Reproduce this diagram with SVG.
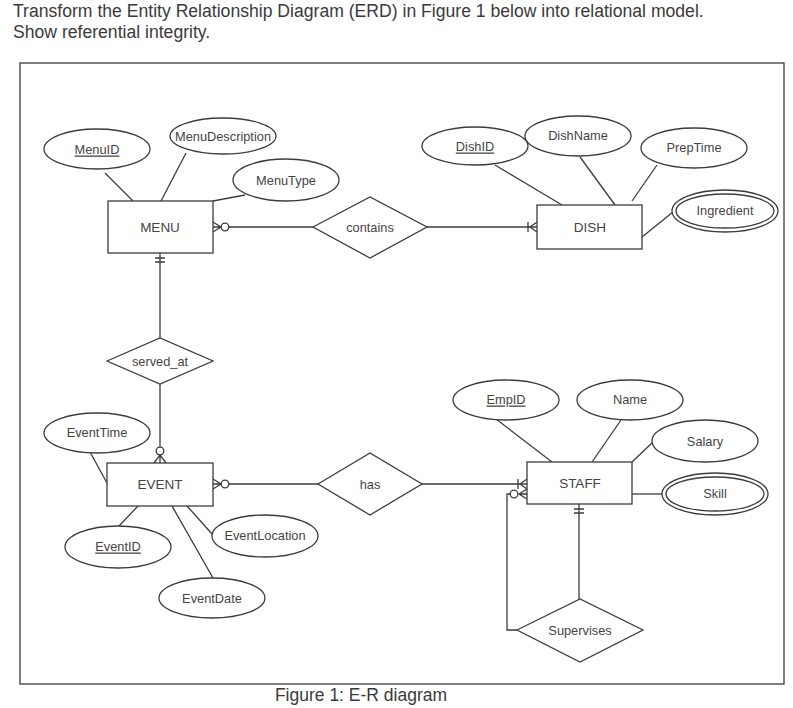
<svg xmlns="http://www.w3.org/2000/svg" width="793" height="708" viewBox="0 0 793 708">
<style>
.t{font-family:"Liberation Sans",Arial,sans-serif;fill:#3a3a3a}
.lbl{font-family:"Liberation Sans",Arial,sans-serif;font-size:12.8px;fill:#444;text-anchor:middle;dominant-baseline:central}
.ent{font-size:13.5px}
.s{fill:none;stroke:#3c3c3c;stroke-width:1.3}
.b{fill:#fff;stroke:#3c3c3c;stroke-width:1.3}
</style>
<rect width="793" height="708" fill="#fff"/>
<text class="t" x="13" y="17" font-size="17.6">Transform the Entity Relationship Diagram (ERD) in Figure 1 below into relational model.</text>
<text class="t" x="13" y="38" font-size="17.6">Show referential integrity.</text>
<rect class="s" x="20" y="63" width="764" height="621" stroke-width="1.5"/>
<text class="t" x="361" y="701" font-size="17.5" text-anchor="middle">Figure 1: E-R diagram</text>

<g id="connectors">
<line class="s" x1="105" y1="173" x2="133" y2="201"/>
<line class="s" x1="186" y1="153" x2="161" y2="201"/>
<line class="s" x1="245" y1="195" x2="213" y2="201"/>
<line class="s" x1="495" y1="165" x2="562" y2="205"/>
<line class="s" x1="580" y1="157" x2="615" y2="205"/>
<line class="s" x1="657" y1="165" x2="632" y2="201"/>
<line class="s" x1="673" y1="212" x2="642" y2="237"/>
<line class="s" x1="90" y1="452" x2="107" y2="483"/>
<line class="s" x1="138" y1="506" x2="119" y2="526"/>
<line class="s" x1="187" y1="506" x2="213" y2="535"/>
<line class="s" x1="172" y1="506" x2="213" y2="578"/>
<line class="s" x1="496" y1="419" x2="552" y2="462"/>
<line class="s" x1="621" y1="420" x2="592" y2="462"/>
<line class="s" x1="653" y1="442" x2="632" y2="462"/>
<line class="s" x1="632" y1="494" x2="663" y2="494"/>
<line class="s" x1="229" y1="227" x2="313" y2="227"/>
<path class="s" d="M213,222 L221,227 L213,232 M213,227 L221,227"/>
<circle class="b" cx="225" cy="227" r="3.8"/>
<line class="s" x1="427" y1="227" x2="537" y2="227"/>
<path class="s" d="M537,222 L530,227 L537,232 M528,222 L528,232"/>
<line class="s" x1="160" y1="253" x2="160" y2="338"/>
<path class="s" d="M155,258 L165,258 M155,262 L165,262"/>
<line class="s" x1="160" y1="384" x2="160" y2="447"/>
<path class="s" d="M154,463 L160,455 L166,463 M160,455 L160,463"/>
<circle class="b" cx="160" cy="451" r="3.8"/>
<line class="s" x1="229" y1="484" x2="318" y2="484"/>
<path class="s" d="M213,479 L221,484 L213,489 M213,484 L221,484"/>
<circle class="b" cx="225" cy="484" r="3.8"/>
<line class="s" x1="422" y1="484" x2="527" y2="484"/>
<path class="s" d="M527,479 L520,484 L527,489 M518,479 L518,489"/>
<path class="s" d="M527,489 L519,494 L527,499 M519,494 L527,494"/>
<circle class="b" cx="514" cy="494" r="3.8"/>
<path class="s" d="M510,494 L507,494 L507,630 L517,630"/>
<line class="s" x1="579" y1="504" x2="579" y2="599"/>
<path class="s" d="M574,509 L584,509 M574,513 L584,513"/>
</g>

<g id="MENU"><rect class="b" x="108" y="201" width="105" height="52"/><text class="lbl ent" x="160" y="227">MENU</text></g>
<g id="MenuID"><ellipse class="b" cx="97" cy="149" rx="53" ry="20"/><text class="lbl" x="97" y="149" text-decoration="underline">MenuID</text></g>
<g id="MenuDescription"><ellipse class="b" cx="223" cy="136" rx="53" ry="18"/><text class="lbl" x="223" y="136">MenuDescription</text></g>
<g id="MenuType"><ellipse class="b" cx="286" cy="180" rx="53" ry="21"/><text class="lbl" x="286" y="180">MenuType</text></g>

<g id="contains"><polygon class="b" points="313,227 370,197 427,227 370,258"/><text class="lbl" x="370" y="227">contains</text></g>

<g id="DISH"><rect class="b" x="537" y="205" width="105" height="44"/><text class="lbl ent" x="590" y="227">DISH</text></g>
<g id="DishID"><ellipse class="b" cx="475" cy="146" rx="53" ry="19"/><text class="lbl" x="475" y="146" text-decoration="underline">DishID</text></g>
<g id="DishName"><ellipse class="b" cx="578" cy="136" rx="53" ry="20"/><text class="lbl" x="578" y="135">DishName</text></g>
<g id="PrepTime"><ellipse class="b" cx="694" cy="148" rx="53" ry="20"/><text class="lbl" x="694" y="147">PrepTime</text></g>
<g id="Ingredient"><ellipse class="b" cx="725" cy="211" rx="53" ry="21"/><ellipse class="s" cx="725" cy="211" rx="49" ry="17"/><text class="lbl" x="725" y="210">Ingredient</text></g>

<g id="served_at"><polygon class="b" points="107,361 160,338 213,361 160,384"/><text class="lbl" x="160" y="361">served_at</text></g>

<g id="EVENT"><rect class="b" x="107" y="463" width="106" height="43"/><text class="lbl ent" x="160" y="484">EVENT</text></g>
<g id="EventTime"><ellipse class="b" cx="97" cy="433" rx="53" ry="20"/><text class="lbl" x="97" y="432">EventTime</text></g>
<g id="EventID"><ellipse class="b" cx="118" cy="547" rx="53" ry="21"/><text class="lbl" x="118" y="546" text-decoration="underline">EventID</text></g>
<g id="EventLocation"><ellipse class="b" cx="265" cy="536" rx="53" ry="21"/><text class="lbl" x="265" y="535">EventLocation</text></g>
<g id="EventDate"><ellipse class="b" cx="212" cy="598" rx="53" ry="20"/><text class="lbl" x="212" y="598">EventDate</text></g>

<g id="has"><polygon class="b" points="318,484 370,453 422,484 370,515"/><text class="lbl" x="370" y="484">has</text></g>

<g id="STAFF"><rect class="b" x="527" y="462" width="105" height="42"/><text class="lbl ent" x="580" y="483">STAFF</text></g>
<g id="EmpID"><ellipse class="b" cx="506" cy="400" rx="53" ry="20"/><text class="lbl" x="506" y="399" text-decoration="underline">EmpID</text></g>
<g id="Name"><ellipse class="b" cx="630" cy="400" rx="53" ry="20"/><text class="lbl" x="630" y="399">Name</text></g>
<g id="Salary"><ellipse class="b" cx="705" cy="441" rx="53" ry="21"/><text class="lbl" x="705" y="441">Salary</text></g>
<g id="Skill"><ellipse class="b" cx="715" cy="494" rx="53" ry="21"/><ellipse class="s" cx="715" cy="494" rx="49" ry="17"/><text class="lbl" x="715" y="493">Skill</text></g>

<g id="Supervises"><polygon class="b" points="517,630 580,599 643,630 580,662"/><text class="lbl" x="580" y="630">Supervises</text></g>
</svg>
